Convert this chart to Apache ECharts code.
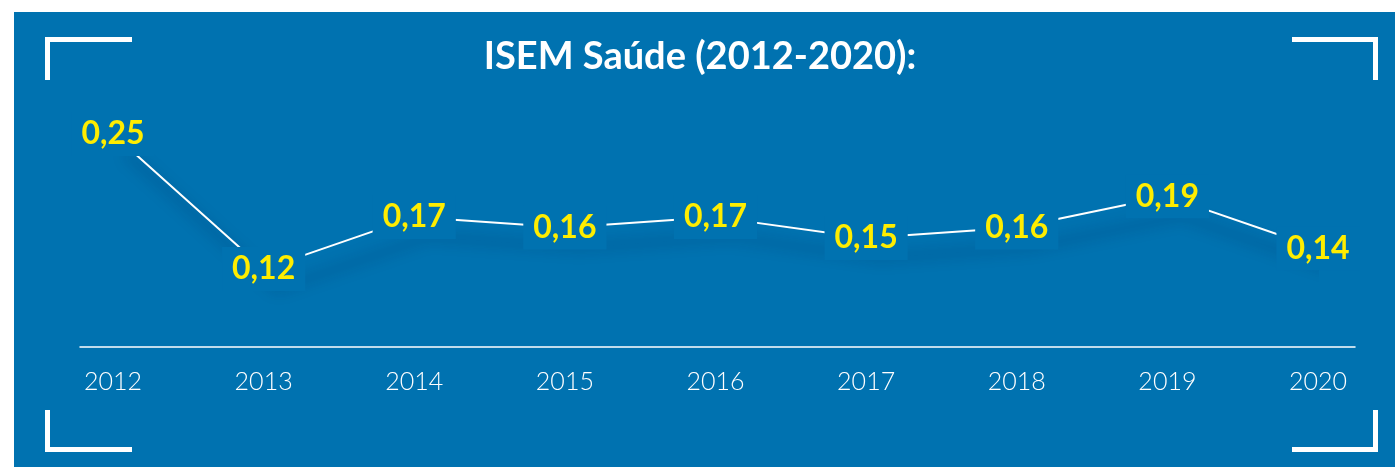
<!DOCTYPE html>
<html>
<head>
<meta charset="utf-8">
<script src="https://cdn.jsdelivr.net/npm/echarts@6/dist/echarts.min.js"></script>
<style>
html,body{margin:0;padding:0;background:#ffffff;}
#chart{width:1395px;height:467px;}
</style>
</head>
<body>
<div id="chart"></div>
<script>
const titleText = 'ISEM Saúde (2012-2020):';
const years = ['2012','2013','2014','2015','2016','2017','2018','2019','2020'];
const isemValues = [0.25, 0.12, 0.17, 0.16, 0.17, 0.15, 0.16, 0.19, 0.14];

const BLUE = '#0072b0';
const YELLOW = '#ffed00';

const chart = echarts.init(document.getElementById('chart'), null, {renderer: 'canvas'});

function bracket(points) {
  return {
    type: 'polyline',
    shape: {points: points},
    style: {stroke: '#ffffff', lineWidth: 5, fill: null, lineCap: 'butt', lineJoin: 'miter'},
    z: 5
  };
}

const option = {
  animation: false,
  backgroundColor: '#ffffff',
  title: {
    text: titleText,
    left: 700,
    textAlign: 'center',
    top: 38,
    padding: 0,
    textStyle: {color: '#ffffff', fontSize: 38, fontWeight: 'bold', fontFamily: 'Lato, "Open Sans", sans-serif'}
  },
  graphic: [
    {type: 'rect', shape: {x: 14, y: 12, width: 1395, height: 467}, style: {fill: BLUE}, z: -10, silent: true},
    bracket([[132, 39.5], [47.5, 39.5], [47.5, 80]]),
    bracket([[1292, 39.5], [1375.5, 39.5], [1375.5, 80]]),
    bracket([[47.5, 410], [47.5, 449.5], [132, 449.5]]),
    bracket([[1375.5, 410], [1375.5, 449.5], [1292, 449.5]])
  ],
  grid: [
    {left: 113, right: 77, top: 134, bottom: 120},
    {left: 80, right: 40, top: 134, bottom: 120}
  ],
  xAxis: [
    {
      gridIndex: 0, type: 'category', data: years, boundaryGap: false,
      axisLine: {show: false}, axisTick: {show: false}, splitLine: {show: false},
      axisLabel: {color: '#ffffff', fontSize: 25, fontWeight: 300, fontFamily: 'Lato, "Open Sans", sans-serif', margin: 22}
    },
    {
      gridIndex: 1, type: 'category', data: years,
      axisLine: {show: true, lineStyle: {color: '#ffffff', width: 1.5}},
      axisTick: {show: false}, axisLabel: {show: false}, splitLine: {show: false}
    }
  ],
  yAxis: [
    {gridIndex: 0, type: 'value', min: 0.045, max: 0.25, show: false, splitLine: {show: false}},
    {gridIndex: 1, type: 'value', show: false, splitLine: {show: false}}
  ],
  series: [
    {
      type: 'line',
      xAxisIndex: 0, yAxisIndex: 0,
      data: isemValues,
      symbol: 'circle',
      symbolSize: 0,
      lineStyle: {
        color: '#ffffff', width: 2,
        shadowColor: 'rgba(0,25,60,0.6)', shadowBlur: 14, shadowOffsetX: 14, shadowOffsetY: 20
      },
      itemStyle: {color: '#ffffff'},
      label: {
        show: true,
        position: 'inside',
        formatter: p => p.value.toFixed(2).replace('.', ','),
        color: YELLOW,
        fontSize: 32,
        fontWeight: 'bold',
        fontFamily: 'Lato, "Open Sans", sans-serif',
        backgroundColor: BLUE,
        padding: [6, 10]
      },
      emphasis: {disabled: true}
    }
  ]
};

chart.setOption(option);
</script>
</body>
</html>
